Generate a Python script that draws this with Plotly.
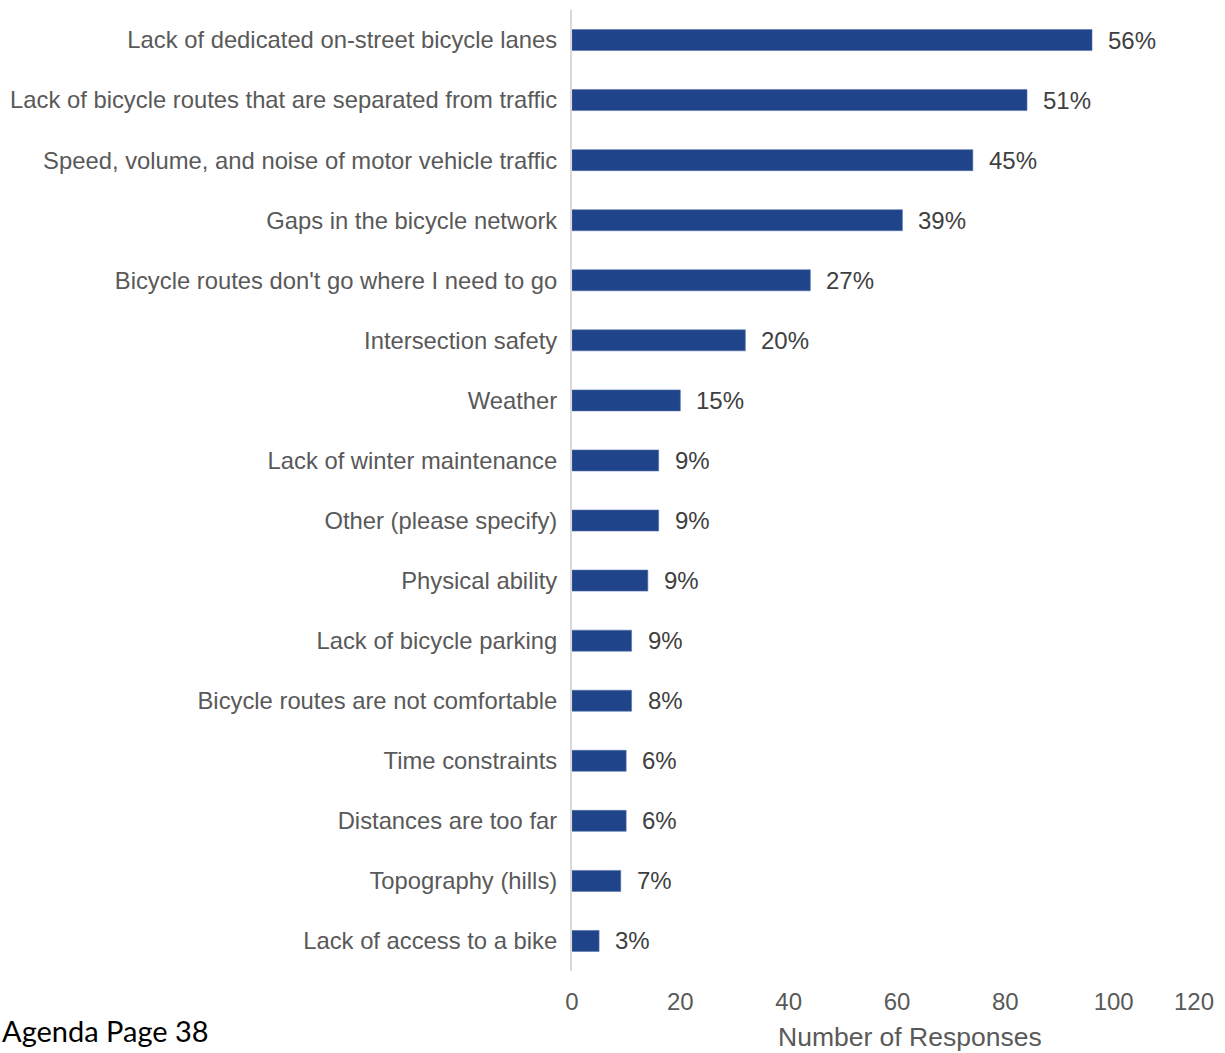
import plotly.graph_objects as go

# Survey: barriers to cycling
categories = [
    "Lack of dedicated on-street bicycle lanes",
    "Lack of bicycle routes that are separated from traffic",
    "Speed, volume, and noise of motor vehicle traffic",
    "Gaps in the bicycle network",
    "Bicycle routes don't go where I need to go",
    "Intersection safety",
    "Weather",
    "Lack of winter maintenance",
    "Other (please specify)",
    "Physical ability",
    "Lack of bicycle parking",
    "Bicycle routes are not comfortable",
    "Time constraints",
    "Distances are too far",
    "Topography (hills)",
    "Lack of access to a bike",
]
responses = [96, 84, 74, 61, 44, 32, 20, 16, 16, 14, 11, 11, 10, 10, 9, 5]
percent_labels = ["56%", "51%", "45%", "39%", "27%", "20%", "15%", "9%",
                  "9%", "9%", "9%", "8%", "6%", "6%", "7%", "3%"]
x_ticks = [0, 20, 40, 60, 80, 100]
x_max = 120

W, H = 1225, 1053
L, R, T, B = 572, 3, 10, 82
plot_w = W - L - R

BAR = "#1F4489"
TEXT = "#595959"
LABEL = "#404040"
FONT = "Liberation Sans, Arial, sans-serif"

fig = go.Figure(go.Bar(
    x=responses,
    y=categories,
    orientation="h",
    marker=dict(color=BAR, line=dict(color="#5674AE", width=0.6)),
    hoverinfo="x+y",
))

annotations = []
for cat, val, lab in zip(categories, responses, percent_labels):
    annotations.append(dict(
        x=val, y=cat, xref="x", yref="y", text=lab, showarrow=False,
        xanchor="left", yanchor="middle", xshift=14,
        font=dict(family=FONT, size=24, color=LABEL),
    ))

# last tick label sits inside the page edge
annotations.append(dict(
    x=x_max, y=0, xref="x", yref="paper", text=str(x_max), showarrow=False,
    xanchor="right", yanchor="top", xshift=-6, yshift=-15,
    font=dict(family=FONT, size=24, color=TEXT),
))

# axis title
annotations.append(dict(
    x=(910 - L) / plot_w, y=0, xref="paper", yref="paper",
    text="Number of Responses", showarrow=False,
    xanchor="center", yanchor="top", yshift=-49,
    font=dict(family=FONT, size=26.5, color=TEXT),
))

# page footer
annotations.append(dict(
    x=-L / plot_w, y=0, xref="paper", yref="paper",
    text="Agenda Page 38", showarrow=False,
    xanchor="left", yanchor="top", yshift=-40,
    font=dict(family="Lato, Open Sans, sans-serif", size=29, color="#000000"),
))

fig.update_layout(
    width=W, height=H,
    margin=dict(l=L, r=R, t=T, b=B, autoexpand=False),
    paper_bgcolor="white", plot_bgcolor="white",
    showlegend=False,
    bargap=0.65,
    annotations=annotations,
    xaxis=dict(
        range=[0, x_max], tickvals=x_ticks, ticktext=[str(v) for v in x_ticks],
        showgrid=False, zeroline=False, showline=False,
        ticks="", ticklabelstandoff=14,
        tickfont=dict(family=FONT, size=24, color=TEXT),
        fixedrange=True,
    ),
    yaxis=dict(
        autorange="reversed", showgrid=False, zeroline=False,
        showline=True, linecolor="#D9D9D9", linewidth=2,
        ticks="", ticklabelstandoff=8,
        tickfont=dict(family=FONT, size=23.8, color=TEXT),
        fixedrange=True,
    ),
)

fig.write_html("out.html")
